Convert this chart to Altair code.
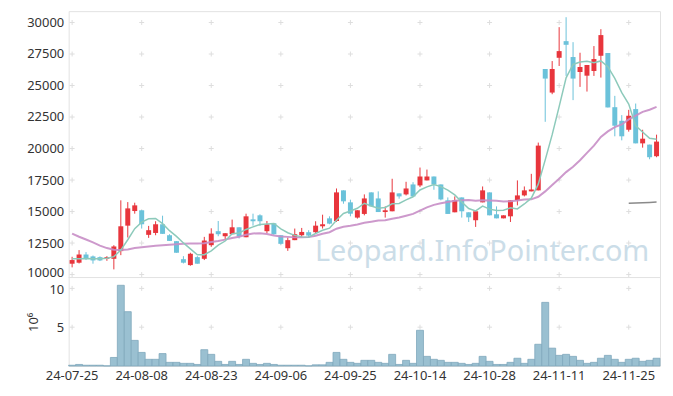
import altair as alt
import pandas as pd

dates = ["24-07-25","24-07-26","24-07-29","24-07-30","24-07-31",
"24-08-01","24-08-02","24-08-05","24-08-06","24-08-07","24-08-08",
"24-08-09","24-08-12","24-08-13","24-08-14","24-08-16","24-08-19","24-08-20","24-08-21","24-08-22","24-08-23",
"24-08-26","24-08-27","24-08-28","24-08-29","24-08-30",
"24-09-02","24-09-03","24-09-04","24-09-05","24-09-06",
"24-09-09","24-09-10","24-09-11","24-09-12","24-09-13",
"24-09-19","24-09-20","24-09-23","24-09-24","24-09-25",
"24-09-26","24-09-27","24-09-30",
"24-10-02","24-10-04","24-10-07","24-10-08","24-10-10","24-10-11","24-10-14",
"24-10-15","24-10-16","24-10-17","24-10-18","24-10-21","24-10-22","24-10-23","24-10-24","24-10-25","24-10-28",
"24-10-29","24-10-30","24-10-31","24-11-01",
"24-11-04","24-11-05","24-11-06","24-11-07","24-11-08","24-11-11",
"24-11-12","24-11-13","24-11-14","24-11-15","24-11-18","24-11-19","24-11-20","24-11-21","24-11-22","24-11-25",
"24-11-26","24-11-27","24-11-28","24-11-29"]

opens = [10860,10940,11590,11440,11380,11250,11250,11860,13880,15040,
15100,13150,13300,13990,13120,12650,11220,10750,11380,11250,
12330,13440,13040,13200,13750,12960,14380,14700,13440,14070,
13120,12090,12730,13120,13360,13360,13830,14460,14250,16680,
15730,14520,14810,16520,16040,14960,15020,16440,16360,17150,
17070,17470,17780,17150,15890,14940,16120,14940,14310,15730,
16520,14780,14460,14620,15890,16280,16600,16680,26310,24440,
27200,28520,27260,26070,25780,26150,27360,27580,23280,22200,
21490,23130,20410,20310,19390]
highs = [11410,11940,11780,11510,11440,11460,12330,15890,15750,15700,
15100,13860,14230,14670,13200,12650,11460,11730,11460,12990,
13670,14250,13280,14360,13750,14830,14830,14780,14250,14070,
13120,12940,13650,13700,13520,14230,14750,14620,16830,16680,
15940,15100,16360,16520,16600,15410,17600,16440,17360,17330,
18490,18330,17780,17150,16120,16200,16120,14940,15100,16990,
16520,15410,14700,15890,17470,16990,17990,20470,26310,26940,
29630,30420,28440,27600,26630,28130,29470,27580,24180,22650,
23070,23570,21490,20310,21100]
lows = [10570,10880,11150,10860,11070,11090,10410,11540,12940,14830,
13650,12910,13120,13230,12670,11730,10880,10700,10860,11150,
12200,13040,12730,13200,12860,12960,13880,13860,13280,13150,
12380,11880,12730,12960,12910,13250,13650,13990,14170,15620,
14620,14440,14700,15410,14960,14520,15020,16020,16280,16150,
16940,17470,16730,15890,14810,14940,14520,14170,13780,15730,
14700,14460,14460,14170,15490,16200,16600,16680,22120,24310,
26550,25760,23840,24890,24520,25760,25630,23260,20970,20650,
21340,20410,20070,19150,19310]
closes = [11150,11590,11250,11120,11120,11380,12230,13830,15250,15490,
13990,13520,13990,13230,12670,11730,10940,11650,10860,12700,
13250,13200,13280,13750,13040,14620,14230,14230,13990,13200,
12440,12730,13200,13380,13090,13880,13990,14040,16520,15810,
14830,15100,16040,15410,14960,15100,16520,16200,16830,16200,
17780,17780,17150,15960,14810,15890,15020,14540,15020,16680,
14700,14460,14700,15890,16280,16680,16750,20230,25550,26310,
27730,28230,25550,26470,26630,27100,29000,23260,21810,20970,
22600,20410,20780,19310,20550]
volume_m = [0.1,0.2,0.1,0.1,0.1,0.02,1.1,10.4,7.0,3.3,
1.75,0.86,0.86,1.6,0.47,0.47,0.34,0.34,0.2,2.1,
1.5,0.6,0.2,0.6,0.2,0.86,0.34,0.2,0.34,0.2,
0.1,0.1,0.1,0.1,0.02,0.15,0.15,0.47,1.75,0.86,
0.47,0.34,0.73,0.73,0.47,0.34,1.5,0.2,0.73,0.34,
4.6,1.24,0.86,0.73,0.47,0.47,0.34,0.2,0.34,1.24,
0.6,0.2,0.2,0.47,1.0,0.34,0.86,2.8,8.2,2.3,
1.37,1.5,1.24,0.73,0.34,0.47,1.0,1.37,0.86,0.47,
0.86,1.0,0.6,0.73,1.0]
ma_short = [11250,11260,11270,11260,11250,11290,11420,11940,12760,13640,
14160,14420,14450,14040,13480,13030,12510,12040,11570,11570,
11880,12330,12660,13240,13300,13580,13780,13970,14020,14050,
13620,13320,13110,12990,12970,13260,13510,13680,14310,14850,
15040,15260,15660,15440,15270,15320,15610,15640,15920,16170,
16710,16960,17150,16980,16700,16320,15760,15240,15050,15430,
15190,15080,15110,15290,15210,15600,16060,17170,19100,21100,
23320,25610,26670,26860,26920,26800,26950,26490,25560,24430,
23530,21810,21310,20810,20730]
ma_mid = [13250,13000,12780,12550,12300,12100,11970,11940,11990,12100,
12170,12230,12280,12330,12370,12410,12440,12460,12470,12480,
12590,12670,12770,12900,13000,13160,13260,13280,13220,13100,
13020,12990,12950,12950,12970,13080,13240,13360,13640,13790,
13870,13970,14110,14190,14280,14310,14420,14520,14660,14810,
15080,15330,15530,15660,15750,15850,15900,15920,15850,15890,
15880,15850,15790,15810,15870,15950,15970,16170,16600,17110,
17610,18130,18550,19070,19660,20230,20920,21360,21700,21910,
22310,22610,22910,23080,23300]
ma_long_dates = ["24-11-25","24-11-26","24-11-27","24-11-28","24-11-29"]
ma_long = [15650,15670,15700,15720,15750]

price_ticks = [10000,12500,15000,17500,20000,22500,25000,27500,30000]
volume_ticks = [5,10]
label_dates = dates[0::10]
watermark = "Leopard.InfoPointer.com"

RED = "#e8353c"
BLUE = "#6bc2da"
FONT = "Noto Sans"
LBL = 13

df = pd.DataFrame({"date": dates, "open": opens, "high": highs, "low": lows,
                   "close": closes, "vol": volume_m,
                   "ma5": ma_short, "ma20": ma_mid})
df["dir"] = ["up" if c >= o else "down" for o, c in zip(opens, closes)]
df_long = pd.DataFrame({"date": ma_long_dates, "ma": ma_long})

price_scale = alt.Scale(domain=[10000, 30900], range=[265, 0], nice=False, zero=False)
vol_scale = alt.Scale(domain=[0, 11.4], range=[357, 268], nice=False, zero=True)
x_scale = alt.Scale(domain=dates, paddingInner=0, paddingOuter=0)

x_enc = alt.X("date:O", scale=x_scale, sort=None, title=None,
              axis=alt.Axis(values=label_dates, labelAngle=0, ticks=False, domain=False,
                            grid=False, labelPadding=4, labelFontSize=13,
                            labelColor="#333333", labelFont=FONT))
color_enc = alt.Color("dir:N", scale=alt.Scale(domain=["up", "down"], range=[RED, BLUE]), legend=None)

cross_path = "M-1,0L1,0M0,-1L0,1"
price_cross_df = pd.DataFrame([(d, p) for d in label_dates for p in price_ticks], columns=["date", "p"])
vol_cross_df = pd.DataFrame([(d, v) for d in label_dates for v in volume_ticks], columns=["date", "v"])

price_axis = alt.Axis(values=price_ticks, orient="left", grid=False, ticks=False, domain=False,
                      format="d", labelPadding=5, labelFontSize=LBL, labelColor="#333333", labelFont=FONT,
                      labelOffset=alt.condition("datum.value == 10000", alt.value(-2), alt.value(0)))

crosses_p = alt.Chart(price_cross_df).mark_point(shape=cross_path, size=25, filled=False,
                                                 color="#dedede", strokeWidth=1, opacity=1).encode(
    x=x_enc, y=alt.Y("p:Q", scale=price_scale, axis=price_axis, title=None))

wicks = alt.Chart(df).mark_rule(strokeWidth=1).encode(
    x=x_enc, y=alt.Y("low:Q", scale=price_scale, axis=price_axis, title=None), y2="high:Q", color=color_enc)
bodies = alt.Chart(df).mark_bar(size=5).encode(
    x=x_enc, y=alt.Y("open:Q", scale=price_scale), y2="close:Q", color=color_enc)
line5 = alt.Chart(df).mark_line(color="#8dcabb", strokeWidth=1.5).encode(
    x=x_enc, y=alt.Y("ma5:Q", scale=price_scale))
line20 = alt.Chart(df).mark_line(color="#c88ec6", strokeWidth=2, opacity=0.9).encode(
    x=x_enc, y=alt.Y("ma20:Q", scale=price_scale))
line_long = alt.Chart(df_long).mark_line(color="#8a8a8a", strokeWidth=1.5).encode(
    x=x_enc, y=alt.Y("ma:Q", scale=price_scale))
wm = alt.Chart(pd.DataFrame({"t": [watermark]})).mark_text(
    fontSize=29, font=FONT, color="#c3d8e5", opacity=0.85, align="center", baseline="middle").encode(
    text="t:N", x=alt.value(416), y=alt.value(242))

price_group = alt.layer(crosses_p, wicks, bodies, line20, line5, line_long, wm)

vol_axis = alt.Axis(values=volume_ticks, orient="left", grid=False, ticks=False, domain=False,
                    labelPadding=5, labelFontSize=LBL, labelColor="#333333", labelFont=FONT,
                    labelOffset=alt.condition("datum.value == 10", alt.value(1), alt.value(0)),
                    title="10\u2076", titleFontSize=13, titleFontWeight="normal", titleColor="#333333",
                    titleFont=FONT, titlePadding=8)
crosses_v = alt.Chart(vol_cross_df).mark_point(shape=cross_path, size=25, filled=False,
                                               color="#dedede", strokeWidth=1, opacity=1).encode(
    x=x_enc, y=alt.Y("v:Q", scale=vol_scale, axis=vol_axis))
vol_bars = alt.Chart(df).mark_bar(size=7, fill="#9ac0d1", stroke="#7fa8bc", strokeWidth=0.8).encode(
    x=x_enc, y=alt.Y("vol:Q", scale=vol_scale, axis=vol_axis))
sep = alt.Chart(pd.DataFrame({"v": [vol_scale.domain[1]]})).mark_rule(color="#e2e2e2", strokeWidth=1).encode(
    y=alt.Y("v:Q", scale=vol_scale))

vol_group = alt.layer(crosses_v, vol_bars, sep)

chart = alt.layer(price_group, vol_group).resolve_scale(y="independent").properties(
    width=595, height=357,
    autosize=alt.AutoSizeParams(type="none"),
    padding={"left": 61, "top": 2, "right": 5, "bottom": 27},
    background="white",
).configure_view(stroke="#e2e2e2", strokeWidth=1)

chart.save("out.html", embed_options={"renderer": "svg", "actions": False})
